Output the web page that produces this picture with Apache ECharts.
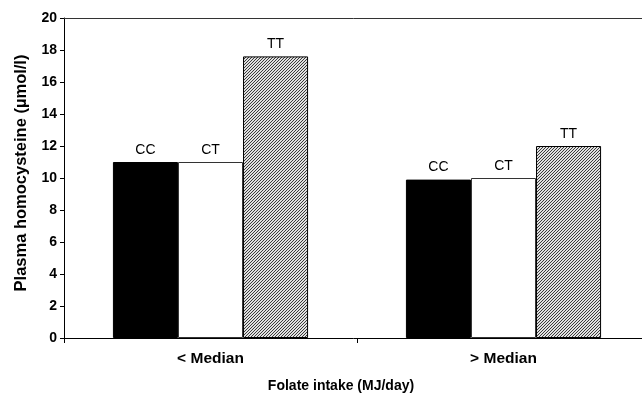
<!DOCTYPE html>
<html><head><meta charset="utf-8">
<script src="https://cdn.jsdelivr.net/npm/echarts@6/dist/echarts.min.js"></script>
<style>html,body{margin:0;padding:0;background:#fff;overflow:hidden}#c{width:642px;height:395px}</style>
</head><body><div id="c"></div>
<script>
const categories = ['< Median', '> Median'];
const seriesNames = ['CC', 'CT', 'TT'];
const ccValues = [11.0, 9.9];
const ctValues = [11.0, 10.0];
const ttValues = [17.6, 12.0];
const yTicks = [0, 2, 4, 6, 8, 10, 12, 14, 16, 18, 20];

function hatch() {
  const s = 3;
  const c = document.createElement('canvas');
  c.width = s; c.height = s;
  const g = c.getContext('2d');
  g.fillStyle = '#e0e0e0'; g.fillRect(0, 0, s, s);
  g.fillStyle = '#3a3a3a';
  for (let i = 0; i < s; i++) g.fillRect(i, s - 1 - i, 1, 1);
  return c;
}
const font = 'Liberation Sans, Arial, sans-serif';
const chart = echarts.init(document.getElementById('c'), null, {renderer: 'canvas'});
const lbl = {show: true, position: 'top', distance: 5, color: '#000', fontFamily: font, fontSize: 14,
  formatter: p => p.seriesName};
const styles = [
  {color: '#000', borderColor: '#000', borderWidth: 1},
  {color: '#fff', borderColor: '#333', borderWidth: 1},
  {color: {image: hatch(), repeat: 'repeat'}, borderColor: '#000', borderWidth: 1}
];
const vals = [ccValues, ctValues, ttValues];
chart.setOption({
  animation: false,
  backgroundColor: '#fff',
  grid: {left: 64, top: 18, bottom: 57, width: 586, outerBoundsMode: 'none', containLabel: false},
  xAxis: [{
    type: 'category', data: categories,
    axisLine: {lineStyle: {color: '#000', width: 1}},
    axisTick: {show: true, alignWithLabel: false, length: 5, lineStyle: {color: '#000'}},
    axisLabel: {color: '#000', fontWeight: 'bold', fontSize: 15.5, fontFamily: font, margin: 13},
    name: 'Folate intake (MJ/day)', nameLocation: 'middle', nameGap: 41,
    nameTextStyle: {color: '#000', fontWeight: 'bold', fontSize: 14, fontFamily: font, padding: [0, 32, 0, 0]}
  }, {
    type: 'category', data: categories, position: 'top',
    axisLine: {lineStyle: {color: '#333', width: 1}},
    axisTick: {show: false}, axisLabel: {show: false}
  }],
  yAxis: {
    type: 'value', min: 0, max: 20, interval: 2,
    axisLine: {show: true, lineStyle: {color: '#000', width: 1}},
    axisTick: {show: true, length: 4, lineStyle: {color: '#000'}},
    splitLine: {show: false},
    axisLabel: {color: '#000', fontWeight: 'bold', fontSize: 14, fontFamily: font, margin: 7,
      formatter: v => yTicks.includes(v) ? String(v) : ''},
    name: 'Plasma homocysteine (µmol/l)', nameLocation: 'middle', nameGap: 34,
    nameTextStyle: {color: '#000', fontWeight: 'bold', fontSize: 16.5, fontFamily: font, padding: [0, 0, 0, 10]}
  },
  series: seriesNames.map((n, i) => ({
    name: n, type: 'bar', data: vals[i], barWidth: '22.2%', barGap: '0%',
    itemStyle: styles[i], label: lbl
  }))
});
</script></body></html>
